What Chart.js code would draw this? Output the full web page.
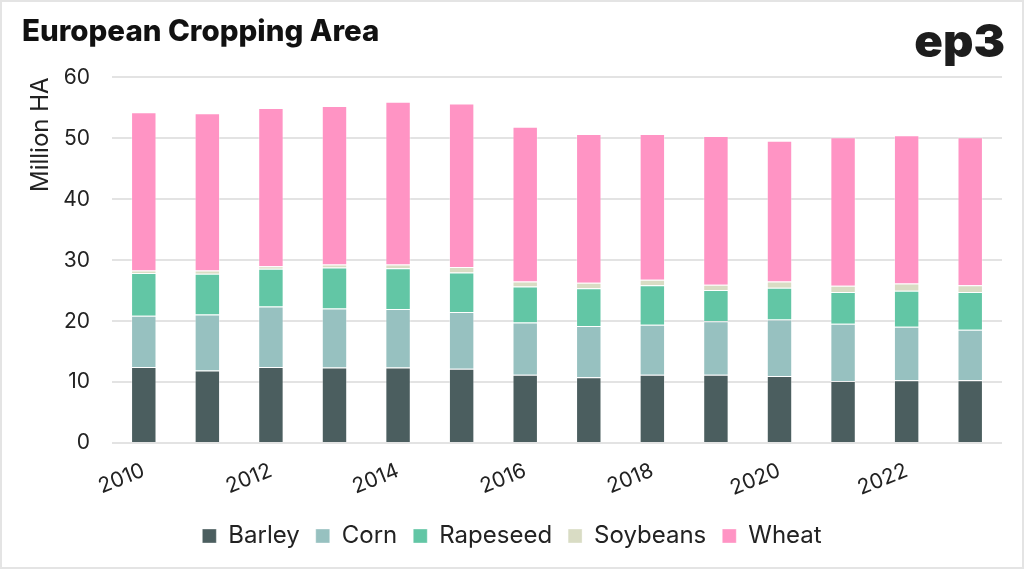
<!DOCTYPE html>
<html>
<head>
<meta charset="utf-8">
<script src="https://cdn.jsdelivr.net/npm/chart.js@4/dist/chart.umd.min.js"></script>
<style>
  html, body { margin: 0; padding: 0; background: #fff; }
  .wrap {
    width: 1024px; height: 569px; box-sizing: border-box;
    border: 2px solid #e4e4e4; position: relative;
  }
</style>
</head>
<body>
<div class="wrap">
  <canvas id="myChart"></canvas>
</div>
<script>
const years = ['2010','2011','2012','2013','2014','2015','2016','2017','2018','2019','2020','2021','2022','2023'];

// million hectares
const barley   = [12.5, 11.9, 12.5, 12.4, 12.4, 12.2, 11.2, 10.8, 11.2, 11.2, 11.0, 10.2, 10.3, 10.3];
const corn     = [ 8.4,  9.2,  9.9,  9.7,  9.6,  9.3,  8.6,  8.4,  8.2,  8.8,  9.3,  9.4,  8.8,  8.3];
const rapeseed = [ 7.0,  6.7,  6.2,  6.7,  6.7,  6.5,  5.9,  6.2,  6.5,  5.1,  5.2,  5.2,  5.9,  6.2];
const soybeans = [ 0.4,  0.5,  0.4,  0.5,  0.6,  0.9,  0.8,  0.9,  0.9,  0.9,  1.0,  1.0,  1.2,  1.1];
const wheat    = [26.0, 25.8, 26.0, 26.0, 26.7, 26.8, 25.4, 24.4, 23.9, 24.4, 23.1, 24.4, 24.3, 24.3];

const yTicks = [0, 10, 20, 30, 40, 50, 60];

const FONT = "Inter, 'Noto Sans', sans-serif";
const TXT = '#222';

function ds(label, data, color) {
    return {
        label: label,
        data: data,
        backgroundColor: color,
        borderColor: 'rgba(255,255,255,0.35)',
        borderWidth: 1,
        barPercentage: 0.4,
        categoryPercentage: 1.0,
    };
}

// draws the "ep3" mark in the top right
const logo = {
    id: 'logo',
    afterDraw(chart) {
        const ctx = chart.ctx;
        ctx.save();
        ctx.fillStyle = '#1d1d1d';
        ctx.font = "900 45px " + FONT;
        ctx.textAlign = 'right';
        ctx.textBaseline = 'alphabetic';
        ctx.translate(1003, 55);
        ctx.scale(1.05, 1);
        ctx.fillText('ep3', 0, 0);
        ctx.restore();
    }
};

const config = {
    type: 'bar',
    data: {
        labels: years,
        datasets: [
            ds('Barley', barley, '#4b5e5f'),
            ds('Corn', corn, '#97c1c0'),
            ds('Rapeseed', rapeseed, '#62c6a5'),
            ds('Soybeans', soybeans, '#d9dcc4'),
            ds('Wheat', wheat, '#ff94c4'),
        ]
    },
    options: {
        responsive: false,
        animation: false,
        layout: {
            padding: { left: 20, right: 20, top: 6, bottom: 9 }
        },
        plugins: {
            title: {
                display: true,
                text: 'European Cropping Area',
                align: 'start',
                color: '#111',
                font: { family: FONT, size: 29.5, weight: '800' },
                padding: { top: 6, bottom: 28 }
            },
            legend: {
                position: 'bottom',
                labels: {
                    color: TXT,
                    font: { family: FONT, size: 24 },
                    boxWidth: 14,
                    boxHeight: 14,
                    padding: 16,
                }
            },
            tooltip: { enabled: false }
        },
        scales: {
            x: {
                stacked: true,
                grid: { display: false },
                border: { display: false },
                ticks: {
                    color: TXT,
                    font: { family: FONT, size: 21 },
                    autoSkip: false,
                    padding: 7,
                    maxRotation: 22,
                    minRotation: 22,
                    callback: function(v, i) { return i % 2 === 0 ? years[i] : ''; }
                }
            },
            y: {
                stacked: true,
                min: 0,
                max: 60,
                afterBuildTicks: function(axis) {
                    axis.ticks = yTicks.map(v => ({ value: v }));
                },
                // pin the axis width so the plot starts where the ref's does
                afterFit: function(axis) {
                    axis.width = 90;
                },
                grid: { color: '#e3e3e3', lineWidth: 2, drawTicks: false },
                border: { display: false },
                ticks: {
                    color: TXT,
                    font: { family: FONT, size: 21 },
                    padding: 22,
                },
                title: {
                    display: true,
                    text: 'Million HA',
                    align: 'end',
                    color: TXT,
                    font: { family: FONT, size: 24 },
                    padding: { top: 4, bottom: 10 }
                }
            }
        }
    },
    plugins: [logo]
};

const cv = document.getElementById('myChart');
cv.width = 1020;
cv.height = 565;
cv.style.width = '1020px';
cv.style.height = '565px';
const myChart = new Chart(cv, config);
</script>
</body>
</html>
